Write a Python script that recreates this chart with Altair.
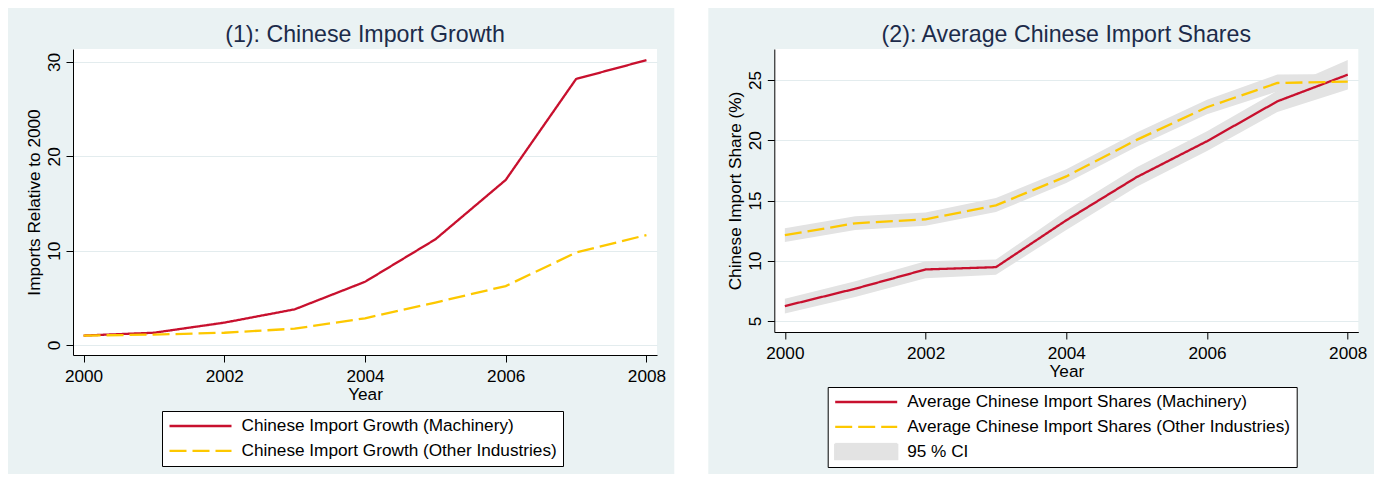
import altair as alt
import pandas as pd

# ---------------- data ----------------
years = [2000, 2001, 2002, 2003, 2004, 2005, 2006, 2007, 2008]

growth_machinery = [1.0, 1.3, 2.37, 3.78, 6.7, 11.2, 17.5, 28.2, 30.2]
growth_other = [1.0, 1.1, 1.3, 1.73, 2.83, 4.5, 6.25, 9.8, 11.66]

share_machinery = [6.24, 7.68, 9.28, 9.47, 13.36, 16.94, 19.92, 23.23, 25.44]
share_machinery_lo = [5.63, 7.0, 8.55, 8.85, 12.55, 16.15, 19.1, 22.35, 24.2]
share_machinery_hi = [6.85, 8.3, 9.95, 10.1, 14.15, 17.75, 20.75, 24.1, 26.65]

share_other = [12.12, 13.11, 13.44, 14.6, 17.0, 20.03, 22.74, 24.75, 24.86]
share_other_lo = [11.55, 12.55, 12.9, 14.05, 16.45, 19.45, 22.15, 24.05, 24.25]
share_other_hi = [12.7, 13.7, 14.0, 15.2, 17.6, 20.65, 23.35, 25.45, 25.5]

left_series = ["Chinese Import Growth (Machinery)",
               "Chinese Import Growth (Other Industries)"]
right_series = ["Average Chinese Import Shares (Machinery)",
                "Average Chinese Import Shares (Other Industries)"]
ci_label = "95 % CI"

x_ticks = [2000, 2002, 2004, 2006, 2008]
left_y_ticks = [0, 10, 20, 30]
right_y_ticks = [5, 10, 15, 20, 25]

left_title = "(1): Chinese Import Growth"
right_title = "(2): Average Chinese Import Shares"

# ---------------- styling ----------------
FONT = "Liberation Sans"
RED = "#C8102E"
YELLOW = "#FDC800"
BAND = "#E3E3E3"
BG = "#EAF2F3"
GRID = "#E3ECEE"
NAVY = "#1C2B4A"
FS = 17.2
TFS = 23.2
SOLID = [1, 0]
DASH = [17, 6]
CI_SHAPE = "M-1,-0.25H1V0.25H-1Z"

W1, H1 = 584, 306
W2, H2 = 584, 283

df_growth = pd.DataFrame({
    "year": years * 2,
    "value": growth_machinery + growth_other,
    "series": [left_series[0]] * len(years) + [left_series[1]] * len(years),
})

df_share = pd.DataFrame({
    "year": years * 2,
    "value": share_machinery + share_other,
    "lo": share_machinery_lo + share_other_lo,
    "hi": share_machinery_hi + share_other_hi,
    "series": [right_series[0]] * len(years) + [right_series[1]] * len(years),
    "band": [ci_label] * (2 * len(years)),
})

x_scale = alt.Scale(domain=[1999.85, 2008.15], nice=False, zero=False)
x_enc = alt.X("year:Q", scale=x_scale,
              axis=alt.Axis(values=x_ticks, format="d", title="Year", grid=False))


def y_axis(values, title):
    return alt.Axis(values=values, title=title, labelAngle=270, labelAlign="center",
                    labelBaseline="alphabetic", labelPadding=7, titlePadding=2, grid=True)


def box_legend(legend_x, legend_y):
    return alt.Legend(
        title=None, orient="none", legendX=legend_x, legendY=legend_y,
        direction="vertical", symbolType="stroke", symbolSize=3844,
        symbolStrokeWidth=2.3, labelFont=FONT, labelFontSize=FS, labelColor="black",
        labelLimit=800, labelOffset=8.5, rowPadding=6.8, padding=6, clipHeight=18,
        fillColor="white", strokeColor="black",
    )


def title_mark(text, width):
    return alt.Chart(alt.Data(values=[{"t": text}])).mark_text(
        font=FONT, fontSize=TFS, color=NAVY, align="center", baseline="alphabetic",
    ).encode(x=alt.value(width / 2), y=alt.value(-7.3), text="t:N")


# ---------------- left panel ----------------
leg_l = box_legend(89, 362)
y_left = alt.Y("value:Q", scale=alt.Scale(domain=[-1.06, 31.38], nice=False, zero=False),
               axis=y_axis(left_y_ticks, "Imports Relative to 2000"))

gap = alt.Chart(alt.Data(values=[{"k": 1}])).mark_rect(fill="white", color="white").encode(
    x=alt.value(W1 + 17.3), x2=alt.value(W1 + 51.3),
    y=alt.value(-41), y2=alt.value(425),
)

lines_l = alt.Chart(df_growth).mark_line(strokeWidth=2.3).encode(
    x=x_enc, y=y_left,
    color=alt.Color("series:N", scale=alt.Scale(domain=left_series, range=[RED, YELLOW]),
                    legend=leg_l),
    strokeDash=alt.StrokeDash("series:N", scale=alt.Scale(domain=left_series,
                                                          range=[SOLID, DASH]),
                              legend=leg_l),
)

left = alt.layer(gap, lines_l, title_mark(left_title, W1)).properties(width=W1, height=H1)

# ---------------- right panel ----------------
leg_r = box_legend(53.4, 338)
right_domain = right_series + [ci_label]
y_scale_r = alt.Scale(domain=[4.09, 27.57], nice=False, zero=False)
y_axis_r = y_axis(right_y_ticks, "Chinese Import Share (%)")
color_scale_r = alt.Scale(domain=right_domain, range=[RED, YELLOW, BAND])

base_r = alt.Chart(df_share)
band_r = base_r.mark_area(opacity=1).encode(
    x=x_enc,
    y=alt.Y("lo:Q", scale=y_scale_r, axis=y_axis_r),
    y2="hi:Q",
    color=alt.Color("band:N", scale=color_scale_r, legend=leg_r),
    detail="series:N",
)
lines_r = base_r.mark_line(strokeWidth=2.3).encode(
    x=x_enc,
    y=alt.Y("value:Q", scale=y_scale_r, axis=y_axis_r),
    color=alt.Color("series:N", scale=color_scale_r, legend=leg_r),
    strokeDash=alt.StrokeDash("series:N", scale=alt.Scale(domain=right_domain,
                                                          range=[SOLID, DASH, SOLID]),
                              legend=leg_r),
)
# carries only the legend symbol shapes (no rows drawn)
shapes_r = base_r.transform_filter("false").mark_point().encode(
    x=x_enc,
    y=alt.Y("value:Q", scale=y_scale_r, axis=y_axis_r),
    color=alt.Color("series:N", scale=color_scale_r, legend=leg_r),
    shape=alt.Shape("series:N", scale=alt.Scale(domain=right_domain,
                                                range=["stroke", "stroke", CI_SHAPE]),
                    legend=leg_r),
)

right = alt.layer(band_r, lines_r, shapes_r, title_mark(right_title, W2)).properties(
    width=W2, height=H2)

chart = alt.hconcat(left, right, spacing=117.3, bounds="flush").resolve_scale(
    color="independent", strokeDash="independent", shape="independent"
).properties(
    background=BG,
    padding={"left": 17, "top": 0, "right": 7, "bottom": 0},
).configure_view(
    fill="white", stroke=None
).configure_axis(
    labelFont=FONT, labelFontSize=FS, labelColor="black",
    titleFont=FONT, titleFontSize=FS, titleFontWeight="normal", titleColor="black",
    domainColor="black", domainWidth=1, tickColor="black", tickSize=7, tickWidth=1,
    gridColor=GRID, gridWidth=1,
).configure_axisX(
    labelPadding=5, titlePadding=1, grid=False,
)

chart.save("out.html", embed_options={"renderer": "svg", "actions": False})
